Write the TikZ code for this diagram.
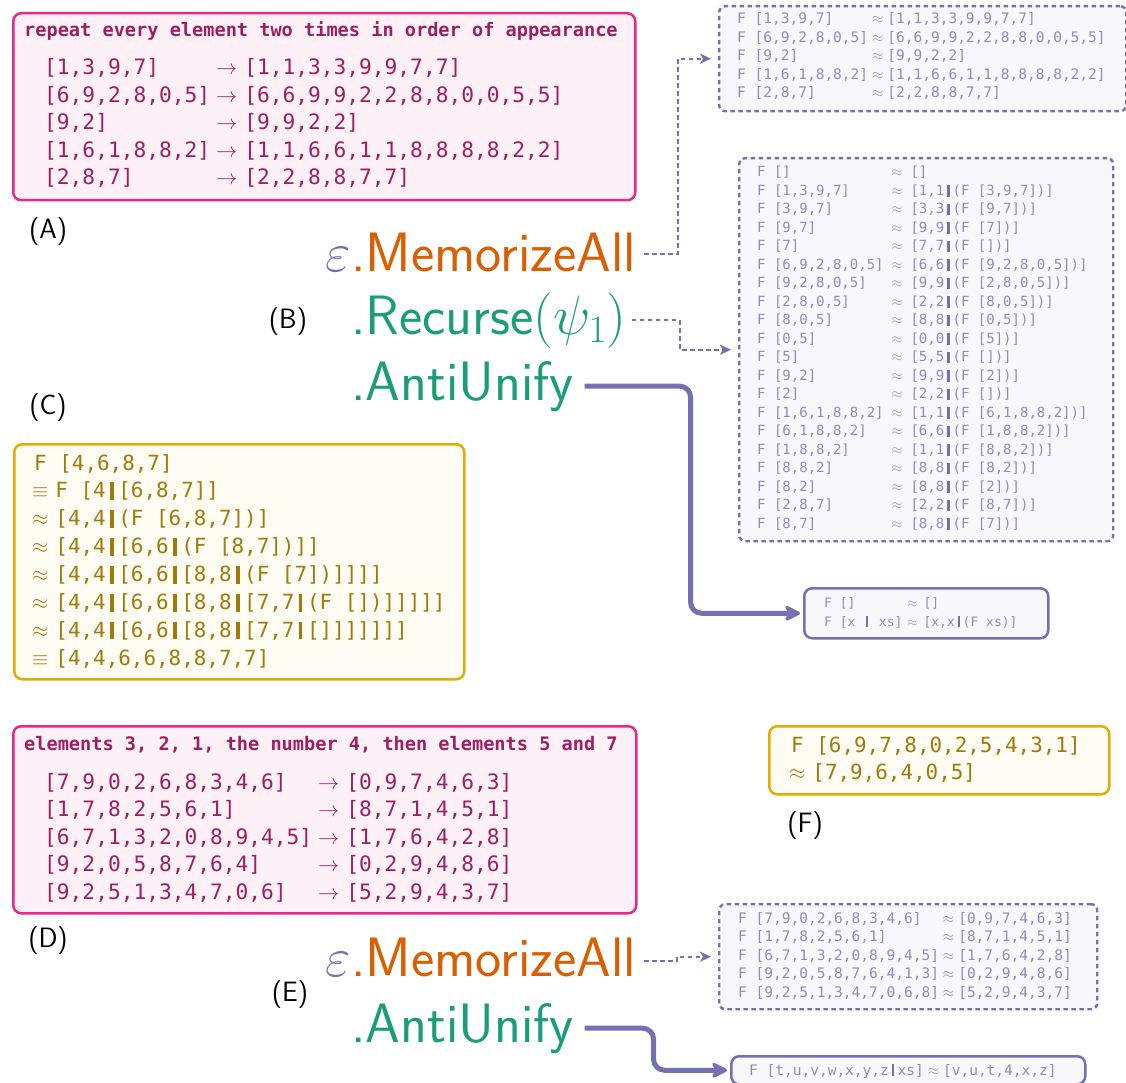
\documentclass[tikz,border=0pt]{standalone}
\usepackage{fix-cm}
\usepackage{fontspec}
\usetikzlibrary{arrows.meta}
\newfontfamily\monof{DejaVu Sans Mono}
\definecolor{dkorange}{HTML}{D95F02}
\definecolor{dkgreen}{HTML}{1B9E77}
\definecolor{dkpurple}{HTML}{7570B3}
\definecolor{lgtpurple}{HTML}{8F8BC2}
\definecolor{pinkline}{HTML}{E7298A}
\definecolor{pinkfill}{HTML}{FDF0F7}
\definecolor{pinktext}{HTML}{9E1F5E}
\definecolor{goldline}{HTML}{E6AB02}
\definecolor{goldfill}{HTML}{FFFCF3}
\definecolor{goldtext}{HTML}{A07A0A}
\definecolor{purplefill}{HTML}{F8F7FB}
\newcommand\mbar{\makebox[0.602em]{\rule[-0.1em]{0.16em}{0.84em}}}
\newcommand\pbar{\textcolor{dkpurple}{\mbar}}
\newcommand\bigmono{\monof\fontsize{21.2}{27.5}\selectfont}
\newcommand\smallmono{\monof\fontsize{14}{18.5}\selectfont}
\newcommand\midmono{\monof\fontsize{14.5}{18.5}\selectfont}
\newcommand\headmono{\monof\bfseries\fontsize{18.6}{22}\selectfont}
\tikzset{
 pinkbox/.style={draw=pinkline, fill=pinkfill, line width=2.5pt, rounded corners=8pt, anchor=north west, inner sep=0pt},
 goldbox/.style={draw=goldline, fill=goldfill, line width=2.5pt, rounded corners=8pt, anchor=north west, inner sep=0pt},
 dashbox/.style={draw=dkpurple, fill=purplefill, line width=2.4pt, dash pattern=on 4.5pt off 3.5pt, rounded corners=6pt, anchor=north west, inner sep=0pt},
 solidbox/.style={draw=dkpurple, fill=purplefill, line width=2.5pt, rounded corners=8pt, anchor=north west, inner sep=0pt},
 txt/.style={anchor=base west, inner sep=0pt},
 bigtxt/.style={anchor=base west, inner sep=0pt, font=\sffamily\fontsize{55.5}{66}\selectfont},
 epstxt/.style={anchor=base east, inner sep=0pt, text=dkpurple, font=\fontsize{55.5}{66}\selectfont},
 lbl/.style={inner sep=0pt, font=\sffamily\fontsize{28}{34}\selectfont},
 dconn/.style={draw=dkpurple, line width=2.3pt, dash pattern=on 4.5pt off 3.5pt, -{Stealth[length=11pt,width=10pt,inset=3pt]}, shorten >=7pt},
 tconn/.style={draw=dkpurple, line width=5pt, rounded corners=11pt, -{Stealth[length=20pt,width=20pt,inset=7pt,round]}, shorten >=3pt},
}
\begin{document}
\begin{tikzpicture}[x=1pt,y=-1pt]
\useasboundingbox (0,0) rectangle (1126,1083);
\fill[white] (0,0) rectangle (1126,1083);

% ---------- Box A ----------
\node[pinkbox, minimum width=622pt, minimum height=187pt] (boxA) at (12,12) {};
\node[txt, text=pinktext] (headA) at (24,37) {\headmono repeat every element two times in order of appearance};
\node[txt, text=pinktext] (rowsA) at (44,75) {\bigmono\begin{tabular}[t]{@{}l@{\hspace{6pt}}c@{\hspace{7pt}}l@{}}
{}[1,3,9,7] & $\rightarrow$ & [1,1,3,3,9,9,7,7]\\
{}[6,9,2,8,0,5] & $\rightarrow$ & [6,6,9,9,2,2,8,8,0,0,5,5]\\
{}[9,2] & $\rightarrow$ & [9,9,2,2]\\
{}[1,6,1,8,8,2] & $\rightarrow$ & [1,1,6,6,1,1,8,8,8,8,2,2]\\
{}[2,8,7] & $\rightarrow$ & [2,2,8,8,7,7]
\end{tabular}};

% ---------- Box C ----------
\node[goldbox, minimum width=450pt, minimum height=235pt] (boxC) at (13,443) {};
\node[txt, text=goldtext] (rowsC) at (32,470) {\monof\fontsize{20.9}{27.9}\selectfont\begin{tabular}[t]{@{}l@{}}
\hspace{2pt}F [4,6,8,7]\\
$\equiv$\hspace{7pt}F [4\mbar[6,8,7]]\\
$\approx$\hspace{7pt}[4,4\mbar(F [6,8,7])]\\
$\approx$\hspace{7pt}[4,4\mbar[6,6\mbar(F [8,7])]]\\
$\approx$\hspace{7pt}[4,4\mbar[6,6\mbar[8,8\mbar(F [7])]]]]\\
$\approx$\hspace{7pt}[4,4\mbar[6,6\mbar[8,8\mbar[7,7\mbar(F [])]]]]]\\
$\approx$\hspace{7pt}[4,4\mbar[6,6\mbar[8,8\mbar[7,7\mbar[]]]]]]]\\
$\equiv$\hspace{7pt}[4,4,6,6,8,8,7,7]
\end{tabular}};

% ---------- Box D ----------
\node[pinkbox, minimum width=623pt, minimum height=187pt] (boxD) at (12,725) {};
\node[txt, text=pinktext] (headD) at (24,750) {\headmono elements 3, 2, 1, the number 4, then elements 5 and 7};
\node[txt, text=pinktext] (rowsD) at (44,789) {\bigmono\begin{tabular}[t]{@{}l@{\hspace{6pt}}c@{\hspace{7pt}}l@{}}
{}[7,9,0,2,6,8,3,4,6] & $\rightarrow$ & [0,9,7,4,6,3]\\
{}[1,7,8,2,5,6,1] & $\rightarrow$ & [8,7,1,4,5,1]\\
{}[6,7,1,3,2,0,8,9,4,5] & $\rightarrow$ & [1,7,6,4,2,8]\\
{}[9,2,0,5,8,7,6,4] & $\rightarrow$ & [0,2,9,4,8,6]\\
{}[9,2,5,1,3,4,7,0,6] & $\rightarrow$ & [5,2,9,4,3,7]
\end{tabular}};

% ---------- Box F ----------
\node[goldbox, minimum width=340pt, minimum height=68pt] (boxF) at (768,725) {};
\node[txt, text=goldtext] (rowsF) at (789,752) {\monof\fontsize{20.9}{27}\selectfont\begin{tabular}[t]{@{}l@{}}
\hspace{2pt}F [6,9,7,8,0,2,5,4,3,1]\\
$\approx$\hspace{7pt}[7,9,6,4,0,5]
\end{tabular}};

% ---------- purple result boxes ----------
\node[dashbox, minimum width=407pt, minimum height=105pt] (memres1) at (718,5) {};
\node[txt, text=lgtpurple] (memres1txt) at (737,24) {\midmono\begin{tabular}[t]{@{}l@{\hspace{4pt}}c@{\hspace{4pt}}l@{}}
F [1,3,9,7] & $\approx$ & [1,1,3,3,9,9,7,7]\\
F [6,9,2,8,0,5] & $\approx$ & [6,6,9,9,2,2,8,8,0,0,5,5]\\
F [9,2] & $\approx$ & [9,9,2,2]\\
F [1,6,1,8,8,2] & $\approx$ & [1,1,6,6,1,1,8,8,8,8,2,2]\\
F [2,8,7] & $\approx$ & [2,2,8,8,7,7]
\end{tabular}};

\node[dashbox, minimum width=374pt, minimum height=383pt] (recres) at (738,157) {};
\node[txt, text=lgtpurple] (recrestxt) at (757,177) {\smallmono\begin{tabular}[t]{@{}l@{\hspace{8pt}}c@{\hspace{8pt}}l@{}}
F [] & $\approx$ & []\\
F [1,3,9,7] & $\approx$ & [1,1\pbar(F [3,9,7])]\\
F [3,9,7] & $\approx$ & [3,3\pbar(F [9,7])]\\
F [9,7] & $\approx$ & [9,9\pbar(F [7])]\\
F [7] & $\approx$ & [7,7\pbar(F [])]\\
F [6,9,2,8,0,5] & $\approx$ & [6,6\pbar(F [9,2,8,0,5])]\\
F [9,2,8,0,5] & $\approx$ & [9,9\pbar(F [2,8,0,5])]\\
F [2,8,0,5] & $\approx$ & [2,2\pbar(F [8,0,5])]\\
F [8,0,5] & $\approx$ & [8,8\pbar(F [0,5])]\\
F [0,5] & $\approx$ & [0,0\pbar(F [5])]\\
F [5] & $\approx$ & [5,5\pbar(F [])]\\
F [9,2] & $\approx$ & [9,9\pbar(F [2])]\\
F [2] & $\approx$ & [2,2\pbar(F [])]\\
F [1,6,1,8,8,2] & $\approx$ & [1,1\pbar(F [6,1,8,8,2])]\\
F [6,1,8,8,2] & $\approx$ & [6,6\pbar(F [1,8,8,2])]\\
F [1,8,8,2] & $\approx$ & [1,1\pbar(F [8,8,2])]\\
F [8,8,2] & $\approx$ & [8,8\pbar(F [8,2])]\\
F [8,2] & $\approx$ & [8,8\pbar(F [2])]\\
F [2,8,7] & $\approx$ & [2,2\pbar(F [8,7])]\\
F [8,7] & $\approx$ & [8,8\pbar(F [7])]
\end{tabular}};

\node[solidbox, minimum width=244pt, minimum height=50pt] (antires1) at (803,587) {};
\node[txt, text=lgtpurple] (antires1txt) at (824,607) {\monof\fontsize{13}{19}\selectfont\begin{tabular}[t]{@{}l@{\hspace{5pt}}c@{\hspace{6pt}}l@{}}
F [] & $\approx$ & []\\
F [x \pbar{} xs] & $\approx$ & [x,x\pbar(F xs)]
\end{tabular}};

\node[dashbox, minimum width=378pt, minimum height=105pt] (memres2) at (718,903) {};
\node[txt, text=lgtpurple] (memres2txt) at (738,923) {\midmono\begin{tabular}[t]{@{}l@{\hspace{4pt}}c@{\hspace{4pt}}l@{}}
F [7,9,0,2,6,8,3,4,6] & $\approx$ & [0,9,7,4,6,3]\\
F [1,7,8,2,5,6,1] & $\approx$ & [8,7,1,4,5,1]\\
F [6,7,1,3,2,0,8,9,4,5] & $\approx$ & [1,7,6,4,2,8]\\
F [9,2,0,5,8,7,6,4,1,3] & $\approx$ & [0,2,9,4,8,6]\\
F [9,2,5,1,3,4,7,0,6,8] & $\approx$ & [5,2,9,4,3,7]
\end{tabular}};

\node[solidbox, minimum width=354pt, minimum height=28pt] (antires2) at (730,1055) {};
\node[txt, text=lgtpurple] (antires2txt) at (749,1075) {\midmono F [t,u,v,w,x,y,z\pbar xs]\hspace{4pt}$\approx$\hspace{4pt}[v,u,t,4,x,z]};

% ---------- big program text ----------
\node[bigtxt, text=dkorange] (mem1) at (351,271) {.MemorizeAll};
\node[epstxt] (eps1) at (mem1.base west) {$\varepsilon$};
\node[bigtxt, text=dkgreen] (rec) at (351,334) {.Recurse$(\psi_1)$};
\node[bigtxt, text=dkgreen] (anti1) at (351,400) {.AntiUnify};
\node[bigtxt, text=dkorange] (mem2) at (351,976) {.MemorizeAll};
\node[epstxt] (eps2) at (mem2.base west) {$\varepsilon$};
\node[bigtxt, text=dkgreen] (anti2) at (351,1042) {.AntiUnify};

% ---------- labels ----------
\node[lbl] (labA) at (48,232) {(A)};
\node[lbl] (labB) at (288,322) {(B)};
\node[lbl] (labC) at (48,408) {(C)};
\node[lbl] (labD) at (48,941) {(D)};
\node[lbl] (labE) at (290,995) {(E)};
\node[lbl] (labF) at (805,826) {(F)};

% ---------- connectors ----------
\draw[dconn] ([xshift=8pt,yshift=-2pt]mem1.east) -- ++(34,0) |- (memres1.west);
\draw[dconn] ([xshift=5pt]rec.east) -- ++(48,0) |- (recres.west);
\draw[tconn] ([xshift=11pt]anti1.east) -- ++(106,0) |- (antires1.west);
\draw[dconn] ([xshift=8pt,yshift=-4pt]mem2.east) -- ++(33,0) |- (memres2.west);
\draw[tconn] ([xshift=11pt]anti2.east) -- ++(69,0) |- (antires2.west);
\end{tikzpicture}
\end{document}
